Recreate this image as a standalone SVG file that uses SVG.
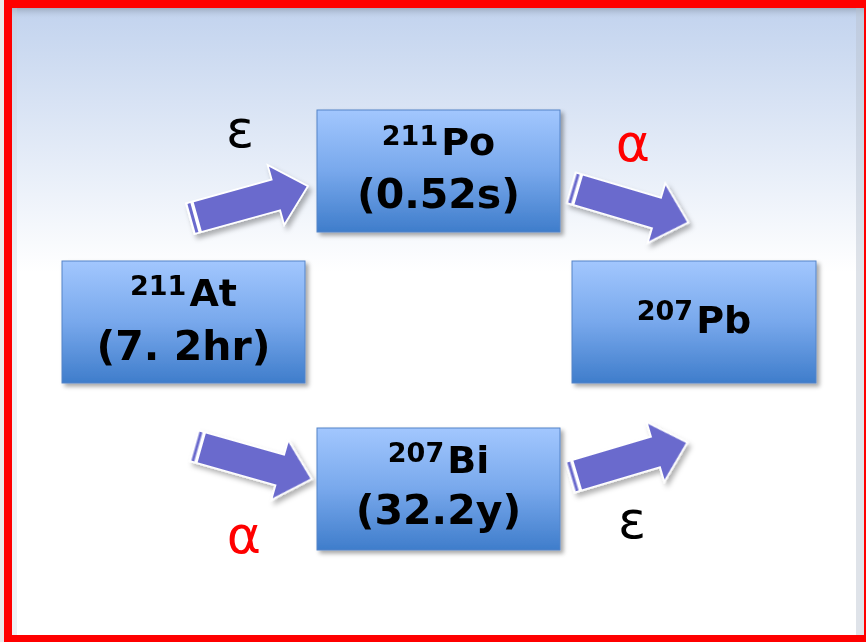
<svg xmlns="http://www.w3.org/2000/svg" width="866" height="642" viewBox="0 0 866 642">
  <defs>
    <linearGradient id="bg" x1="0" y1="0" x2="0" y2="1" gradientUnits="objectBoundingBox">
      <stop offset="0" stop-color="#c2d3ee"/>
      <stop offset="0.42" stop-color="#ffffff"/>
      <stop offset="1" stop-color="#ffffff"/>
    </linearGradient>
    <linearGradient id="topband" x1="0" y1="0" x2="0" y2="1">
      <stop offset="0" stop-color="#9fadc2"/>
      <stop offset="1" stop-color="#bccbe4" stop-opacity="0"/>
    </linearGradient>
    <linearGradient id="box" x1="0" y1="0" x2="0" y2="1">
      <stop offset="0" stop-color="#a2c7fe"/>
      <stop offset="0.5" stop-color="#78a8ec"/>
      <stop offset="1" stop-color="#3f7dcb"/>
    </linearGradient>
    <filter id="shadow" x="-10%" y="-10%" width="130%" height="130%">
      <feDropShadow dx="3" dy="3" stdDeviation="2.2" flood-color="#000" flood-opacity="0.35"/>
    </filter>
    <filter id="ashadow" x="-20%" y="-40%" width="150%" height="190%">
      <feDropShadow dx="3" dy="4" stdDeviation="2.5" flood-color="#000" flood-opacity="0.3"/>
    </filter>
    <g id="arrow">
      <path d="M0,-15 L89,-15 L89,-29 L120,0 L89,29 L89,15 L0,15 Z" fill="#ffffff" stroke="#ffffff" stroke-width="3.5" stroke-linejoin="miter"/>
      <rect x="0.5" y="-15" width="3" height="30" fill="#6a6acd"/>
      <path d="M7,-15 L89,-15 L89,-29 L120,0 L89,29 L89,15 L7,15 Z" fill="#6a6acd"/>
    </g>
    <style>
      .node rect { fill: url(#box); stroke: #5584c8; stroke-width: 1; filter: url(#shadow); }
      .lbl { font-family: "DejaVu Sans", "Liberation Sans", sans-serif; font-weight: bold; fill: #000; text-anchor: middle; }
      .sup { font-size: 27px; }
      .main { font-size: 38px; }
      .half { font-size: 41px; }
      .greek { font-family: "DejaVu Sans", "Noto Sans", sans-serif; font-size: 52px; text-anchor: middle; }
    </style>
  </defs>

  <rect x="0" y="0" width="866" height="642" fill="#e9e9e9"/>
  <rect x="12" y="8" width="852" height="630" fill="url(#bg)"/>
  <rect x="12" y="8" width="852" height="10" fill="url(#topband)"/>
  <rect x="12" y="8" width="5" height="630" fill="#c8cfdb" opacity="0.3"/>
  <rect x="856" y="8" width="8" height="630" fill="#b7c0cf" opacity="0.45"/>
  <rect x="8" y="4" width="860" height="635" fill="none" stroke="#ff0000" stroke-width="8"/>

  <g id="connectors">
    <g filter="url(#ashadow)">
      <use href="#arrow" transform="translate(191,218.5) rotate(-15.5)"/>
      <use href="#arrow" transform="translate(572,188) rotate(16.5)"/>
      <use href="#arrow" transform="translate(195,446) rotate(15.8)"/>
      <use href="#arrow" transform="translate(571,477) rotate(-16.5)"/>
    </g>
    <text class="greek" x="240" y="147" fill="#000">ε</text>
    <text class="greek" x="633" y="161" fill="#ff0000">α</text>
    <text class="greek" x="244" y="553" fill="#ff0000">α</text>
    <text class="greek" x="632" y="538" fill="#000">ε</text>
  </g>

  <g id="node-at211" class="node">
    <rect x="62" y="261" width="243" height="122"/>
    <text class="lbl" x="183.5" y="306"><tspan class="sup" dy="-11">211</tspan><tspan class="main" dy="11" dx="3">At</tspan></text>
    <text class="lbl half" x="183.5" y="360">(7. 2hr)</text>
  </g>

  <g id="node-po211" class="node">
    <rect x="317" y="110" width="243" height="122"/>
    <text class="lbl" x="438.5" y="155"><tspan class="sup" dy="-10">211</tspan><tspan class="main" dy="10" dx="3">Po</tspan></text>
    <text class="lbl half" x="438.5" y="208">(0.52s)</text>
  </g>

  <g id="node-bi207" class="node">
    <rect x="317" y="428" width="243" height="122"/>
    <text class="lbl" x="438.5" y="473"><tspan class="sup" dy="-11">207</tspan><tspan class="main" dy="11" dx="3">Bi</tspan></text>
    <text class="lbl half" x="438.5" y="524">(32.2y)</text>
  </g>

  <g id="node-pb207" class="node">
    <rect x="572" y="261" width="244" height="122"/>
    <text class="lbl" x="694" y="333"><tspan class="sup" dy="-13">207</tspan><tspan class="main" dy="13" dx="3">Pb</tspan></text>
  </g>
</svg>
